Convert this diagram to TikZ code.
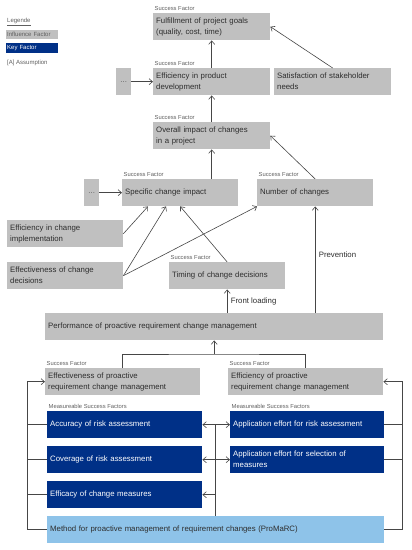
\documentclass[tikz,border=0pt]{standalone}
\usepackage{fontspec}
\setmainfont{Liberation Sans}
\usetikzlibrary{arrows.meta}
\definecolor{inflgray}{RGB}{192,192,192}
\definecolor{keyblue}{RGB}{0,48,135}
\definecolor{methodblue}{RGB}{142,195,233}
\definecolor{boxtext}{RGB}{45,45,45}
\definecolor{labelgray}{RGB}{95,95,95}
\definecolor{linegray}{RGB}{70,70,70}

\begin{document}
\begin{tikzpicture}[x=1pt, y=-1pt,
    influence/.style={fill=inflgray, text=boxtext, anchor=north west, inner xsep=3pt, inner ysep=0pt,
        minimum height=27pt, align=left, text width=#1, font=\fontsize{7.8}{11}\selectfont},
    keyfactor/.style={influence=#1, fill=keyblue, text=white},
    methodbox/.style={influence=#1, fill=methodblue},
    sflabel/.style={anchor=south west, inner xsep=1.5pt, inner ysep=2pt, text=labelgray, font=\fontsize{5.8}{6}\selectfont},
    legtext/.style={anchor=west, inner sep=1pt, text=labelgray, font=\fontsize{6}{7}\selectfont},
    conn/.style={draw=linegray, line width=0.6pt, -{Straight Barb[length=3.5pt,width=6pt]}},
    plainline/.style={draw=linegray, line width=0.6pt}]
    \useasboundingbox (0,0) rectangle (412,550);

    % Legend
    \node[legtext] (legtitle) at (6,22) {\underline{Legende}};
    \node[legtext, fill=inflgray, text width=50pt, minimum height=9pt, anchor=north west] (leginfl) at (6,30) {Influence Factor};
    \node[legtext, fill=keyblue, text=white, text width=50pt, minimum height=10pt, anchor=north west] (legkey) at (6,43) {Key Factor};
    \node[legtext] (legass) at (6,63) {[A] Assumption};

    % Upper success factors
    \node[influence=111] (fulfil) at (153,13) {Fulfillment of project goals\\(quality, cost, time)};
    \node[sflabel] (fulfilsf) at (fulfil.north west) {Success Factor};
    \node[influence=111] (effprod) at (153,68) {Efficiency in product\\development};
    \node[sflabel] (effprodsf) at (effprod.north west) {Success Factor};
    \node[influence=9, align=center, text=labelgray] (dotsprod) at (116,68) {...};
    \node[influence=111] (satis) at (274,68) {Satisfaction of stakeholder\\needs};
    \node[influence=111] (overall) at (153,122) {Overall impact of changes\\in a project};
    \node[sflabel] (overallsf) at (overall.north west) {Success Factor};

    % Change related factors
    \node[influence=110] (specific) at (122,179) {Specific change impact};
    \node[sflabel] (specificsf) at (specific.north west) {Success Factor};
    \node[influence=9, align=center, text=labelgray] (dotsspec) at (84,179) {...};
    \node[influence=110] (number) at (257,179) {Number of changes};
    \node[sflabel] (numbersf) at (number.north west) {Success Factor};
    \node[influence=110] (effimpl) at (7,220) {Efficiency in change\\implementation};
    \node[influence=110] (effdec) at (7,262) {Effectiveness of change\\decisions};
    \node[influence=110] (timing) at (169,262) {Timing of change decisions};
    \node[sflabel] (timingsf) at (timing.north west) {Success Factor};

    % Proactive requirement change management
    \node[influence=332] (perf) at (45,313) {Performance of proactive requirement change management};
    \node[influence=149] (effpro) at (45,368) {Effectiveness of proactive\\requirement change management};
    \node[sflabel] (effprosf) at (effpro.north west) {Success Factor};
    \node[influence=149] (effypro) at (228,368) {Efficiency of proactive\\requirement change management};
    \node[sflabel] (effyprosf) at (effypro.north west) {Success Factor};

    % Key factors
    \node[keyfactor=149] (accur) at (47,411) {Accuracy of risk assessment};
    \node[sflabel] (accursf) at (accur.north west) {Measureable Success Factors};
    \node[keyfactor=149] (cover) at (47,446) {Coverage of risk assessment};
    \node[keyfactor=149] (efficacy) at (47,481) {Efficacy of change measures};
    \node[keyfactor=148] (apprisk) at (230,411) {Application effort for risk assessment};
    \node[sflabel] (appriskmsf) at (apprisk.north west) {Measureable Success Factors};
    \node[keyfactor=148] (appsel) at (230,446) {Application effort for selection of\\measures};
    \node[methodbox=331] (method) at (47,516) {Method for proactive management of requirement changes (ProMaRC)};

    % Connectors, upper part
    \draw[conn] (effprod.north) -- (fulfil.south);
    \draw[conn] (satis.north) -- (fulfil.east);
    \draw[conn] (dotsprod.east) -- (effprod.west);
    \draw[conn] (overall.north) -- (effprod.south);
    \draw[conn] (specific.north -| overall.south) -- (overall.south);
    \draw[conn] (number.north) -- (overall.east);
    \draw[conn] (dotsspec.east) -- (specific.west);
    \draw[conn] (effimpl.east) -- ([xshift=26pt]specific.south west);
    \draw[conn] (effdec.east) -- ([xshift=44pt]specific.south west);
    \draw[conn] (effdec.east) -- (number.south west);
    \draw[conn] (timing.north) -- (specific.south);
    \draw[conn] (timing.south |- perf.north) -- node[right, font=\fontsize{7.8}{8}\selectfont, text=boxtext] {Front loading} (timing.south);
    \draw[conn] (number.south |- perf.north) -- node[right, pos=0.55, font=\fontsize{7.8}{8}\selectfont, text=boxtext] {Prevention} (number.south);

    % Connectors, lower part
    \coordinate (join) at (214,354);
    \draw[plainline] (effpro.north) |- (join) -| (effypro.north);
    \draw[conn] (perf.south |- join) -- (perf.south);

    \draw[conn] (method.west) -- ++(-20,0) |- (effpro.west);
    \draw[plainline] (accur.west) -- ++(-20,0);
    \draw[plainline] (cover.west) -- ++(-20,0);
    \draw[plainline] (efficacy.west) -- ++(-20,0);

    \draw[conn] (method.east) -- ++(18,0) |- (effypro.east);
    \draw[plainline] (apprisk.east) -- ++(18,0);
    \draw[plainline] (appsel.east) -- ++(18,0);

    \draw[plainline] (method.north) -- (method.north |- accur.east);
    \draw[conn] (method.north |- accur.east) -- (accur.east);
    \draw[conn] (method.north |- cover.east) -- (cover.east);
    \draw[conn] (method.north |- efficacy.east) -- (efficacy.east);
    \draw[conn] (method.north |- apprisk.west) -- (apprisk.west);
    \draw[conn] (method.north |- appsel.west) -- (appsel.west);
\end{tikzpicture}
\end{document}
